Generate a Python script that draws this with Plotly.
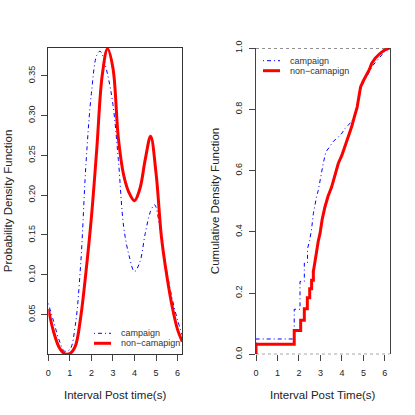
import plotly.graph_objects as go

# hustota (PDF)
pdf_x_camp = [0.00, 0.25, 0.50, 0.75, 1.00, 1.25, 1.50, 1.75, 2.00, 2.25, 2.40, 2.50, 2.75,
              3.00, 3.25, 3.50, 3.75, 4.00, 4.25, 4.50, 4.75, 4.93, 5.00, 5.25, 5.50, 5.75, 6.00, 6.22]
pdf_y_camp = [0.064, 0.041, 0.018, 0.004, 0.006, 0.036, 0.112, 0.240, 0.328, 0.376, 0.381, 0.377, 0.352,
              0.314, 0.245, 0.160, 0.124, 0.104, 0.116, 0.152, 0.180, 0.188, 0.185, 0.145, 0.104, 0.070, 0.043, 0.024]

pdf_x_non = [0.00, 0.25, 0.50, 0.75, 1.00, 1.25, 1.50, 1.75, 2.00, 2.25, 2.50, 2.75,
             3.00, 3.25, 3.50, 3.75, 4.00, 4.25, 4.50, 4.75, 5.00, 5.25, 5.50, 5.75, 6.00, 6.22]
pdf_y_non = [0.057, 0.028, 0.009, 0.001, 0.001, 0.010, 0.046, 0.104, 0.172, 0.258, 0.350, 0.384,
             0.360, 0.272, 0.225, 0.203, 0.193, 0.208, 0.245, 0.274, 0.228, 0.148, 0.099, 0.060, 0.031, 0.016]

# kumulativní distribuce (ECDF) - velké skoky jako dvojice bodů, dál hustě
cdf_x_camp = [0, 0, 1.78, 1.78, 2.05, 2.05, 2.25, 2.25, 2.40, 2.40, 2.50, 2.59, 2.67, 2.74, 2.82, 2.90,
              2.98, 3.05, 3.13, 3.25, 3.44, 3.60, 3.83, 4.00, 4.14, 4.35, 4.53, 4.62, 4.71, 4.80, 4.91,
              5.02, 5.15, 5.30, 5.44, 5.60, 5.77, 5.95, 6.15, 6.25]
cdf_y_camp = [0, 0.050, 0.050, 0.147, 0.147, 0.238, 0.238, 0.298, 0.298, 0.345, 0.372, 0.410, 0.459,
              0.490, 0.515, 0.535, 0.570, 0.600, 0.623, 0.660, 0.677, 0.695, 0.709, 0.722, 0.737, 0.752,
              0.769, 0.785, 0.807, 0.840, 0.873, 0.890, 0.905, 0.925, 0.943, 0.958, 0.970, 0.985, 0.998, 1.0]

cdf_x_non = [0, 0, 1.78, 1.78, 2.08, 2.08, 2.25, 2.25, 2.39, 2.39, 2.50, 2.50, 2.59, 2.59, 2.67, 2.67,
             2.74, 2.82, 2.90, 2.98, 3.08, 3.21, 3.35, 3.52, 3.67, 3.83, 4.00, 4.14, 4.30, 4.45, 4.58,
             4.71, 4.80, 4.87, 5.00, 5.15, 5.28, 5.38, 5.55, 5.77, 5.95, 6.15, 6.25]
cdf_y_non = [0, 0.033, 0.033, 0.078, 0.078, 0.111, 0.111, 0.149, 0.149, 0.185, 0.185, 0.214, 0.214,
             0.242, 0.242, 0.270, 0.300, 0.340, 0.370, 0.394, 0.440, 0.481, 0.515, 0.546, 0.585, 0.623,
             0.650, 0.677, 0.710, 0.742, 0.775, 0.807, 0.845, 0.873, 0.893, 0.911, 0.930, 0.949, 0.967,
             0.982, 0.992, 0.998, 1.0]

series_names = ["campaign", "non\u2212camapign"]
pdf_ticks = [0.05, 0.10, 0.15, 0.20, 0.25, 0.30, 0.35]
cdf_ticks = [0.0, 0.2, 0.4, 0.6, 0.8, 1.0]
x_ticks = [0, 1, 2, 3, 4, 5, 6]

FONT = "Liberation Sans, Arial, Helvetica, sans-serif"
BLUE = "#0000ff"
RED = "#ff0000"
BLUE_DASH = "1px,3px,4px,3px"
W, H = 415, 415

fig = go.Figure()

# levý graf - hustota
fig.add_trace(go.Scatter(x=pdf_x_camp, y=pdf_y_camp, mode="lines", line_shape="spline",
                         line=dict(color=BLUE, width=1, dash=BLUE_DASH), xaxis="x", yaxis="y"))
fig.add_trace(go.Scatter(x=pdf_x_non, y=pdf_y_non, mode="lines", line_shape="spline",
                         line=dict(color=RED, width=3), xaxis="x", yaxis="y"))

# pravý graf - ECDF
fig.add_trace(go.Scatter(x=cdf_x_camp, y=cdf_y_camp, mode="lines",
                         line=dict(color=BLUE, width=1, dash=BLUE_DASH), xaxis="x2", yaxis="y2"))
fig.add_trace(go.Scatter(x=cdf_x_non, y=cdf_y_non, mode="lines",
                         line=dict(color=RED, width=3), xaxis="x2", yaxis="y2"))

# domény v pixelech -> papír
x1_dom = [48.3 / W, 182.3 / W]
x2_dom = [256.0 / W, 389.8 / W]
y_dom = [1 - 354.3 / H, 1 - 48.0 / H]

tickfont = dict(family=FONT, size=9, color="#222")
axis_common = dict(ticks="outside", ticklen=6, tickcolor="#444", tickwidth=1,
                   showgrid=False, zeroline=False, tickfont=tickfont, automargin=False)

fig.update_layout(
    width=W, height=H, autosize=False,
    margin=dict(l=0, r=0, t=0, b=0, pad=0),
    paper_bgcolor="white", plot_bgcolor="white",
    showlegend=False,
    font=dict(family=FONT, color="#222"),
    xaxis=dict(domain=x1_dom, range=[0, 6.22], tickvals=x_ticks, showline=True, mirror=True,
               linecolor="#333", linewidth=1, anchor="y", ticklabelstandoff=4, **axis_common),
    yaxis=dict(domain=y_dom, range=[0, 0.385], tickvals=pdf_ticks, ticktext=[f"{v:.2f}" for v in pdf_ticks],
               tickangle=-90, showline=True, mirror=True, linecolor="#333", linewidth=1,
               anchor="x", ticklabelstandoff=3, **axis_common),
    xaxis2=dict(domain=x2_dom, range=[0, 6.23], tickvals=x_ticks, showline=False,
                anchor="y2", ticklabelstandoff=4, **axis_common),
    yaxis2=dict(domain=y_dom, range=[0, 1.0], tickvals=cdf_ticks, ticktext=[f"{v:.1f}" for v in cdf_ticks],
                tickangle=-90, showline=True, mirror=True, linecolor="#444", linewidth=1,
                anchor="x2", ticklabelstandoff=3, **axis_common),
)

# čárkované čáry ECDF na 0 a 1
for yv in [0, 1]:
    fig.add_shape(type="line", xref="x2 domain", yref="y2", x0=0, x1=1, y0=yv, y1=yv,
                  line=dict(color="#222", width=1, dash="3px,3px"))

# popisky os
title_font = dict(family=FONT, size=11.5, color="#222")
fig.add_annotation(text="Interval Post time(s)", xref="x domain", yref="paper", x=0.5, y=1 - 395 / H,
                   showarrow=False, font=title_font, xanchor="center", yanchor="middle")
fig.add_annotation(text="Interval Post Time(s)", xref="x2 domain", yref="paper", x=0.5, y=1 - 395 / H,
                   showarrow=False, font=title_font, xanchor="center", yanchor="middle")
fig.add_annotation(text="Probability Density Function", xref="paper", yref="y domain", x=8 / W, y=0.5,
                   textangle=-90, showarrow=False, font=title_font, xanchor="center", yanchor="middle")
fig.add_annotation(text="Cumulative Density Function", xref="paper", yref="y2 domain", x=215 / W, y=0.5,
                   textangle=-90, showarrow=False, font=title_font, xanchor="center", yanchor="middle")

# ruční legendy (bez rámečku, jako v R)
leg_font = dict(family=FONT, size=9, color="#333")
def add_legend(x0_px, y_px):
    styles = [dict(color=BLUE, width=1, dash=BLUE_DASH), dict(color=RED, width=3)]
    for i, (name, st) in enumerate(zip(series_names, styles)):
        yy = 1 - (y_px + 10 * i) / H
        fig.add_shape(type="line", xref="paper", yref="paper", x0=x0_px / W, x1=(x0_px + 17) / W,
                      y0=yy, y1=yy, line=st)
        fig.add_annotation(text=name, xref="paper", yref="paper", x=(x0_px + 25) / W, y=yy,
                           showarrow=False, font=leg_font, xanchor="left", yanchor="middle")

add_legend(94, 333.3)
add_legend(263, 60.7)

# bez okrajů stránky, aby graf seděl přesně do okna
fig.write_html("out.html", config={"displayModeBar": False},
               post_script="document.body.style.margin='0';document.body.style.overflow='hidden';")
